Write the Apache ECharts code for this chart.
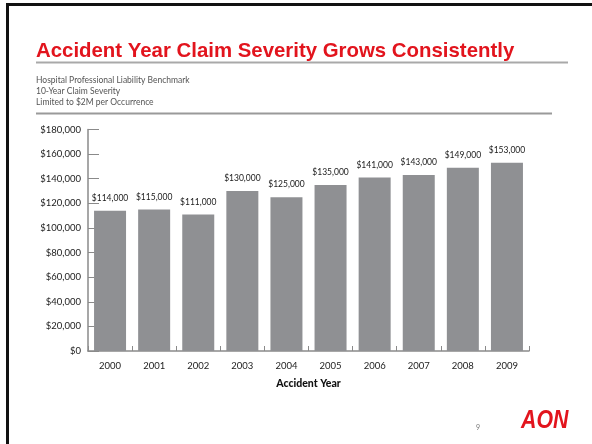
<!DOCTYPE html>
<html>
<head>
<meta charset="utf-8">
<script src="https://cdn.jsdelivr.net/npm/echarts@6/dist/echarts.min.js"></script>
<style>
  html, body { margin: 0; padding: 0; background: #fff; }
  #chart { width: 592px; height: 444px; }
</style>
</head>
<body>
<div id="chart"></div>
<script>
// Accident year claim severity, hospital professional liability
const years = ['2000', '2001', '2002', '2003', '2004', '2005', '2006', '2007', '2008', '2009'];
const severity = [114000, 115000, 111000, 130000, 125000, 135000, 141000, 143000, 149000, 153000];
const subtitleLines = [
  'Hospital Professional Liability Benchmark',
  '10-Year Claim Severity',
  'Limited to $2M per Occurrence'
];
const yMin = 0;
const yMax = 180000;
const yStep = 20000;

function money(v) {
  return '$' + String(v).replace(/\B(?=(\d{3})+(?!\d))/g, ',');
}

const chart = echarts.init(document.getElementById('chart'), null, { renderer: 'canvas' });

const bodyFont = 'Lato, "Open Sans", sans-serif';

const graphics = [
  // slide frame (top and left edges)
  { type: 'rect', shape: { x: 6, y: 3, width: 586, height: 3 }, style: { fill: '#111' } },
  { type: 'rect', shape: { x: 6, y: 3, width: 3, height: 441 }, style: { fill: '#111' } },
  // heading
  {
    type: 'text', x: 36, y: 51,
    style: {
      text: 'Accident Year Claim Severity Grows Consistently',
      font: 'bold 20.4px "Liberation Sans", Arial, sans-serif',
      fill: '#e2141d', verticalAlign: 'middle', align: 'left'
    }
  },
  { type: 'rect', shape: { x: 36, y: 61.5, width: 532, height: 2 }, style: { fill: '#a9a9a9' } },
  { type: 'rect', shape: { x: 36, y: 112.5, width: 516, height: 2 }, style: { fill: '#9a9a9a' } },
  // page number
  {
    type: 'text', x: 478, y: 428,
    style: { text: '9', font: '7px ' + bodyFont, fill: '#777', align: 'center', verticalAlign: 'middle' }
  },
  // logo wordmark
  {
    type: 'text', x: 521, y: 421, scaleX: 0.82,
    style: {
      text: 'AON', font: 'italic 900 26px "Liberation Sans", Arial, sans-serif',
      fill: '#e2141d', align: 'left', verticalAlign: 'middle'
    }
  }
];

subtitleLines.forEach(function (line, i) {
  graphics.push({
    type: 'text', x: 36, y: 80.5 + i * 11,
    style: { text: line, font: '8.5px ' + bodyFont, fill: '#555', align: 'left', verticalAlign: 'middle' }
  });
});

chart.setOption({
  animation: false,
  backgroundColor: '#fff',
  grid: { left: 88, right: 63, top: 129.5, bottom: 93 },
  xAxis: {
    type: 'category',
    data: years,
    name: 'Accident Year',
    nameLocation: 'middle',
    nameGap: 27,
    nameTextStyle: { fontFamily: bodyFont, fontWeight: 900, fontSize: 10.5, color: '#111' },
    axisLine: { show: true, lineStyle: { color: '#8a8a8a', width: 1.5 } },
    axisTick: { show: true, inside: true, length: 5, lineStyle: { color: '#8a8a8a' } },
    axisLabel: { margin: 10, fontFamily: bodyFont, fontSize: 9.5, color: '#222' }
  },
  yAxis: {
    type: 'value',
    min: yMin,
    max: yMax,
    interval: yStep,
    axisLine: { show: true, lineStyle: { color: '#8a8a8a', width: 1.5 } },
    axisTick: { show: true, inside: true, length: 11, lineStyle: { color: '#8a8a8a' } },
    splitLine: { show: false },
    axisLabel: { margin: 7, fontFamily: bodyFont, fontSize: 9.5, color: '#222', formatter: money }
  },
  series: [{
    type: 'bar',
    data: severity,
    barWidth: 32,
    itemStyle: { color: '#8f9093' },
    label: {
      show: true,
      position: 'top',
      distance: 8,
      fontFamily: bodyFont,
      fontSize: 8.5,
      color: '#1a1a1a',
      formatter: function (p) { return money(p.value); }
    }
  }],
  graphic: graphics
});
</script>
</body>
</html>
